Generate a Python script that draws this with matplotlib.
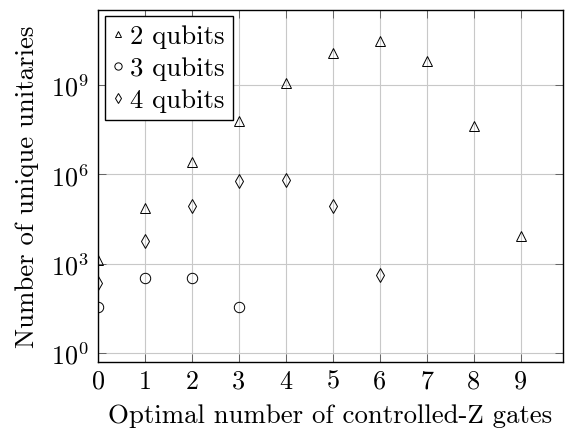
import matplotlib
matplotlib.use("Agg")
import matplotlib.pyplot as plt
import numpy as np

plt.rcParams['font.family'] = 'serif'
plt.rcParams['font.serif'] = ['cmr10']
plt.rcParams['mathtext.fontset'] = 'cm'
plt.rcParams['axes.unicode_minus'] = False

# Daten
x2 = [0, 1, 2, 3, 4, 5, 6, 7, 8, 9]
y2 = [1.35e3, 7.2e4, 2.6e6, 6.3e7, 1.15e9, 1.15e10, 3.0e10, 6.5e9, 4.3e7, 8.3e3]
x3 = [0, 1, 2, 3]
y3 = [36, 324, 324, 36]
x4 = [0, 1, 2, 3, 4, 5, 6]
y4 = [216, 5.6e3, 8.7e4, 5.9e5, 6.5e5, 8.7e4, 430]

labels = ["2 qubits", "3 qubits", "4 qubits"]
yticks = [1, 1e3, 1e6, 1e9]
ytick_labels = [r"$10^{0}$", r"$10^{3}$", r"$10^{6}$", r"$10^{9}$"]

fs = 19.3

fig = plt.figure(figsize=(5.65, 4.31), dpi=100)
ax = fig.add_axes([0.1735, 0.158, 0.823, 0.817])

kw = dict(linestyle="none", markerfacecolor="none", markeredgecolor="black",
          markeredgewidth=0.7, zorder=3)
ax.plot(x2, y2, marker="^", markersize=7, label=labels[0], **kw)
ax.plot(x3, y3, marker="o", markersize=7.5, label=labels[1], **kw)
ax.plot(x4, y4, marker="d", markersize=7, label=labels[2], **kw)

ax.set_yscale("log")
ax.set_xlim(0, 9.9)
ax.set_ylim(10 ** -0.3, 10 ** 11.52)
ax.set_xticks(range(10))
ax.set_yticks(yticks)
ax.set_yticklabels(ytick_labels)
ax.minorticks_off()
ax.tick_params(axis="both", which="major", direction="in", length=6, width=0.6,
               top=True, right=True, labelsize=fs - 0.5, color="#555555")
ax.tick_params(axis="x", pad=5)
ax.tick_params(axis="y", pad=7)
ax.grid(True, color="#c8c8c8", linewidth=0.8)
ax.set_axisbelow(True)
for s in ax.spines.values():
    s.set_linewidth(1.0)

ax.set_xlabel("Optimal number of controlled-Z gates", fontsize=fs, labelpad=8)
ax.set_ylabel("Number of unique unitaries", fontsize=fs, labelpad=8)

leg = ax.legend(loc="upper left", fontsize=fs, fancybox=False, edgecolor="black",
                framealpha=1, handlelength=0.4, handletextpad=0.25, markerscale=0.7,
                borderaxespad=0.25, borderpad=0.3, labelspacing=0.3)
leg.get_frame().set_linewidth(1.0)

fig.savefig("out.png", dpi=100)
